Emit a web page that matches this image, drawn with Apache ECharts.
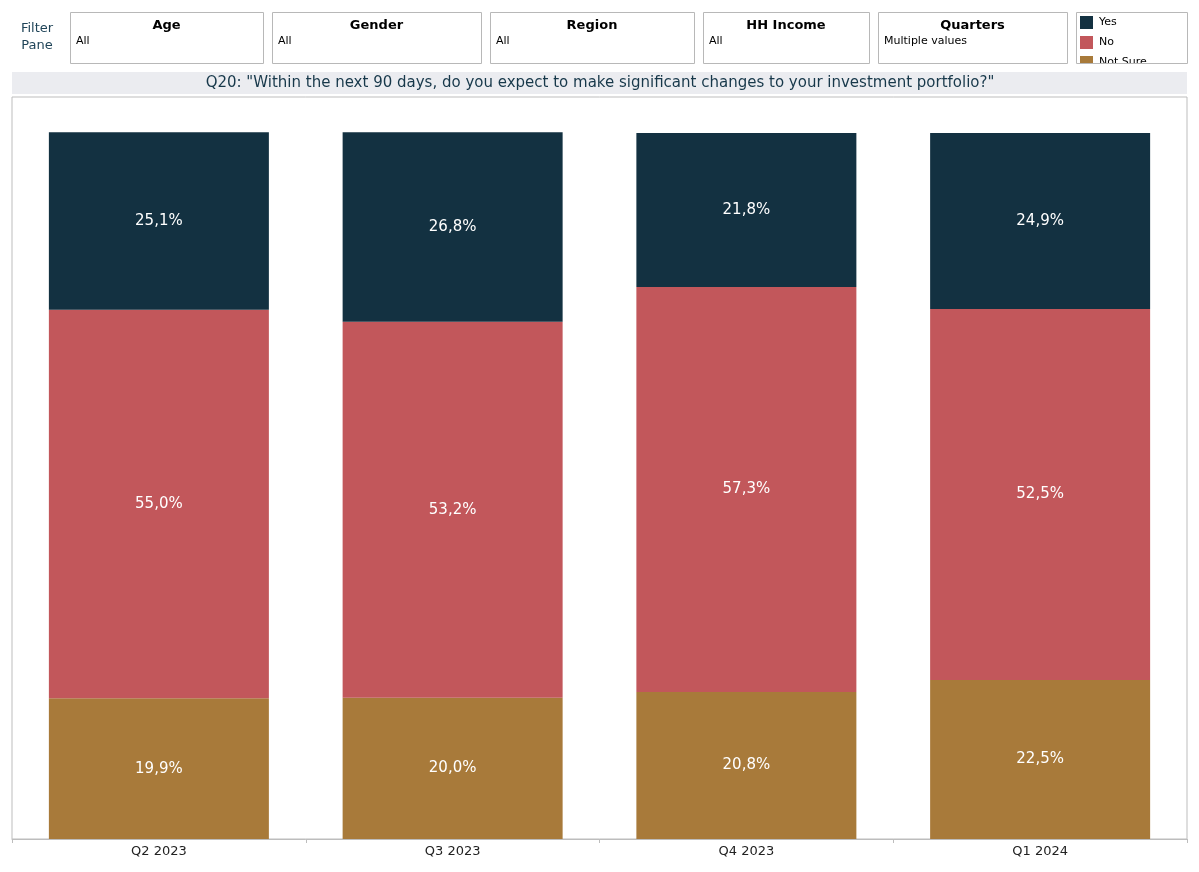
<!DOCTYPE html>
<html>
<head>
<meta charset="utf-8">
<script src="https://cdn.jsdelivr.net/npm/echarts@6/dist/echarts.min.js"></script>
<style>html,body{margin:0;padding:0;background:#fff;}#c{width:1199px;height:872px;}</style>
</head>
<body>
<div id="c"></div>
<script>
const categories = ['Q2 2023', 'Q3 2023', 'Q4 2023', 'Q1 2024'];
const seriesNames = ['Yes', 'No', 'Not Sure'];
const yesValues = [25.1, 26.8, 21.8, 24.9];
const noValues = [55.0, 53.2, 57.3, 52.5];
const notSureValues = [19.9, 20.0, 20.8, 22.5];
const filters = [
  { title: 'Age', value: 'All' },
  { title: 'Gender', value: 'All' },
  { title: 'Region', value: 'All' },
  { title: 'HH Income', value: 'All' },
  { title: 'Quarters', value: 'Multiple values' }
];
const chartTitle = 'Q20: "Within the next 90 days, do you expect to make significant changes to your investment portfolio?"';

const colors = ['#133141', '#c2575b', '#a87a3a'];
const FONT = 'DejaVu Sans';
const boxes = [[70, 263], [272, 481], [490, 694], [703, 869], [878, 1067]];

const graphics = [];
graphics.push({ type: 'text', z: 100, x: 37, y: 29, style: { text: 'Filter', font: '13px "DejaVu Sans"', fill: '#1f4458', align: 'center', verticalAlign: 'middle' } });
graphics.push({ type: 'text', z: 100, x: 37, y: 46, style: { text: 'Pane', font: '13px "DejaVu Sans"', fill: '#1f4458', align: 'center', verticalAlign: 'middle' } });
filters.forEach((f, i) => {
  const [x0, x1] = boxes[i];
  graphics.push({ type: 'rect', z: 100, shape: { x: x0 + 0.5, y: 12.5, width: x1 - x0, height: 51 }, style: { fill: '#fff', stroke: '#b8b8b8', lineWidth: 1 } });
  graphics.push({ type: 'text', z: 101, x: (x0 + x1) / 2, y: 25.5, style: { text: f.title, font: 'bold 13px "DejaVu Sans"', fill: '#000', align: 'center', verticalAlign: 'middle' } });
  graphics.push({ type: 'text', z: 101, x: x0 + 6, y: 41.5, style: { text: f.value, font: '11px "DejaVu Sans"', fill: '#000', align: 'left', verticalAlign: 'middle' } });
});
// legend box: cover overflow below and draw border
graphics.push({ type: 'rect', z: 200, shape: { x: 1070, y: 64, width: 125, height: 7 }, style: { fill: '#fff' } });
graphics.push({ type: 'rect', z: 201, shape: { x: 1076.5, y: 12.5, width: 111, height: 51 }, style: { fill: 'none', stroke: '#b8b8b8', lineWidth: 1 } });
// title bar
graphics.push({ type: 'rect', z: 100, shape: { x: 12, y: 72, width: 1175, height: 22 }, style: { fill: '#ebecf0' } });
graphics.push({ type: 'text', z: 101, x: 600, y: 83, style: { text: chartTitle, font: '15px "DejaVu Sans"', fill: '#17384a', align: 'center', verticalAlign: 'middle' } });

const fmt = p => p.value.toFixed(1).replace('.', ',') + '%';
const mk = (name, data, color) => ({
  name, type: 'bar', stack: 'total', data, barWidth: 220,
  itemStyle: { color, borderWidth: 0 },
  label: { show: true, position: 'inside', formatter: fmt, color: '#fff', fontSize: 15, fontFamily: FONT },
  emphasis: { disabled: true }
});

const chart = echarts.init(document.getElementById('c'), null, { renderer: 'canvas' });
chart.setOption({
  animation: false,
  textStyle: { fontFamily: FONT },
  color: colors,
  legend: {
    data: seriesNames, orient: 'vertical', left: 1080, top: 16, padding: 0,
    itemWidth: 13, itemHeight: 13, itemGap: 7, icon: 'rect', z: 150,
    textStyle: { fontSize: 11, color: '#000', fontFamily: FONT, padding: [0, 0, 0, 1] },
    selectedMode: false
  },
  grid: { left: 12, right: 12, top: 97, bottom: 33, show: true, borderColor: '#bdbdbd', borderWidth: 1, containLabel: false },
  xAxis: {
    type: 'category', data: categories,
    axisLine: { lineStyle: { color: '#bdbdbd' } },
    axisTick: { show: true, length: 4, lineStyle: { color: '#bdbdbd' } },
    axisLabel: { fontSize: 13, color: '#222', margin: 6, fontFamily: FONT }
  },
  yAxis: { type: 'value', min: 0, max: 105, show: false, splitLine: { show: false } },
  series: [mk('Yes', yesValues, colors[0]), mk('No', noValues, colors[1]), mk('Not Sure', notSureValues, colors[2])].reverse(),
  graphic: graphics
});
</script>
</body>
</html>
